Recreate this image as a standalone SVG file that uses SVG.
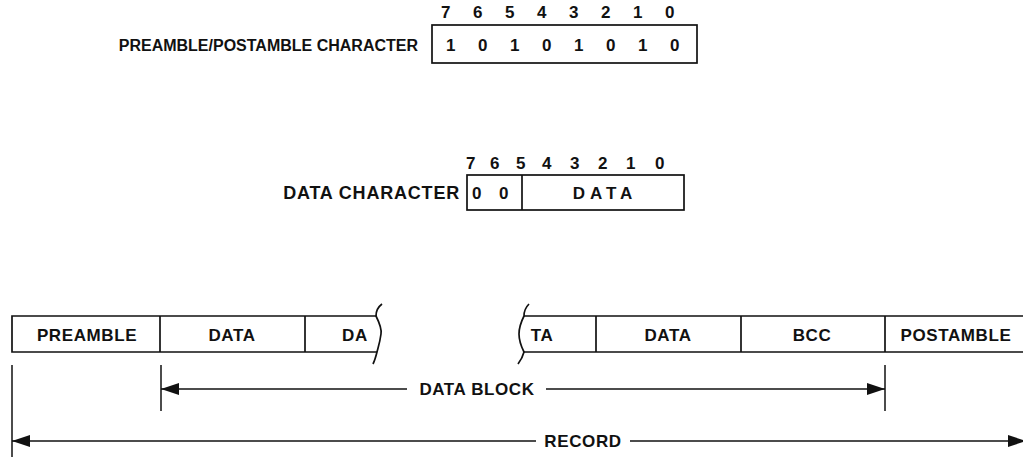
<svg xmlns="http://www.w3.org/2000/svg" width="1023" height="457" viewBox="0 0 1023 457">
<defs>
<style>
.t{font-family:"Liberation Sans",Arial,sans-serif;font-weight:bold;font-size:16px;fill:#111}
.s{font-size:17px;letter-spacing:0.6px}
.d{font-size:18px;letter-spacing:0.8px}
.m{text-anchor:middle}
.e{text-anchor:end}
.b{fill:none;stroke:#111;stroke-width:1.7}
.l{fill:none;stroke:#111;stroke-width:1.5}
</style>
<marker id="ah" viewBox="0 0 18 12" refX="18" refY="6" markerWidth="18" markerHeight="12" markerUnits="userSpaceOnUse" orient="auto-start-reverse">
<path d="M0,0 L18,6 L0,12 Z" fill="#111"/>
</marker>
</defs>
<rect width="1023" height="457" fill="#fff"/>

<g id="preamble-character">
<text class="t e" x="418" y="51">PREAMBLE/POSTAMBLE CHARACTER</text>
<rect class="b" x="432" y="25" width="265" height="38"/>
<g class="t s m">
<text x="446" y="18">7</text><text x="478" y="18">6</text><text x="510" y="18">5</text><text x="542" y="18">4</text>
<text x="574" y="18">3</text><text x="606" y="18">2</text><text x="638" y="18">1</text><text x="670" y="18">0</text>
<text x="451" y="51">1</text><text x="483" y="51">0</text><text x="515" y="51">1</text><text x="547" y="51">0</text>
<text x="579" y="51">1</text><text x="611" y="51">0</text><text x="643" y="51">1</text><text x="675" y="51">0</text>
</g>
</g>

<g id="data-character">
<text class="t d e" x="460" y="199">DATA CHARACTER</text>
<rect class="b" x="467" y="175" width="217" height="35"/>
<line class="b" x1="522" y1="175" x2="522" y2="210"/>
<g class="t s m">
<text x="471" y="169">7</text><text x="495" y="169">6</text><text x="521" y="169">5</text><text x="547" y="169">4</text>
<text x="575" y="169">3</text><text x="603" y="169">2</text><text x="631" y="169">1</text><text x="660" y="169">0</text>
<text x="477" y="199">0</text><text x="504" y="199">0</text>
<text x="605" y="199" letter-spacing="5">DATA</text>
</g>
</g>

<g id="record-left">
<path class="b" d="M377,316 L12,316 L12,352 L377,352"/>
<line class="b" x1="160" y1="316" x2="160" y2="352"/>
<line class="b" x1="305" y1="316" x2="305" y2="352"/>
<path class="b" d="M382,304 C378,307 376,311 376,316 C379,322 382,328 381,334 C380,342 378,348 377,352 C376,356 375,360 373,364"/>
<g class="t s m">
<text x="87" y="341">PREAMBLE</text>
<text x="232" y="341">DATA</text>
<text x="355" y="341">DA</text>
</g>
</g>

<g id="record-right">
<path class="b" d="M1023,316 L524,316 M524,352 L1023,352"/>
<line class="b" x1="596" y1="316" x2="596" y2="352"/>
<line class="b" x1="741" y1="316" x2="741" y2="352"/>
<line class="b" x1="885" y1="316" x2="885" y2="352"/>
<path class="b" d="M529,304 C526,307 524,311 524,316 C521,322 519,328 519,334 C519,342 522,348 524,352 C523,356 521,360 518,364"/>
<g class="t s m">
<text x="542" y="341">TA</text>
<text x="668" y="341">DATA</text>
<text x="812" y="341">BCC</text>
<text x="956" y="341">POSTAMBLE</text>
</g>
</g>

<g id="connectors">
<line class="l" x1="161" y1="365" x2="161" y2="411"/>
<line class="l" x1="885" y1="365" x2="885" y2="411"/>
<line class="l" x1="12" y1="365" x2="12" y2="457"/>
<line class="l" x1="407" y1="389" x2="161" y2="389" marker-end="url(#ah)"/>
<line class="l" x1="546" y1="389" x2="885" y2="389" marker-end="url(#ah)"/>
<line class="l" x1="536" y1="441" x2="12" y2="441" marker-end="url(#ah)"/>
<line class="l" x1="630" y1="441" x2="1026" y2="441" marker-end="url(#ah)"/>
<text class="t s m" x="477" y="395">DATA BLOCK</text>
<text class="t s m" x="583" y="447">RECORD</text>
</g>
</svg>
